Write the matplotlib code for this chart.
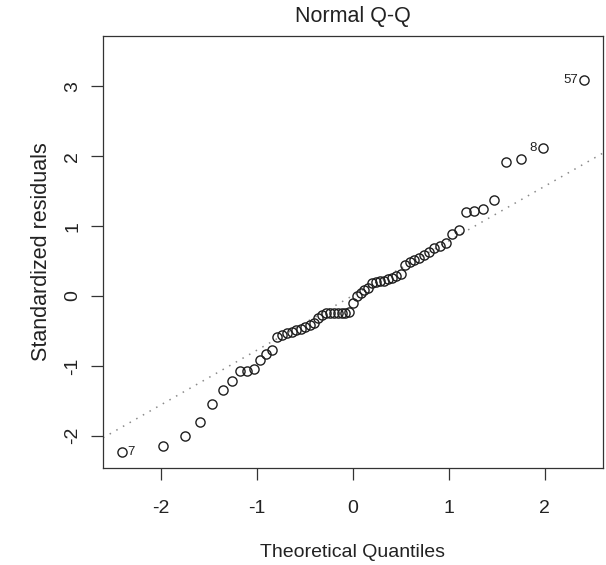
import matplotlib
matplotlib.use("Agg")
import matplotlib.pyplot as plt
import numpy as np
from statistics import NormalDist

# Sorted standardized residuals of the fitted model
std_resid = [-2.23, -2.14, -2.00, -1.80, -1.55, -1.35, -1.21, -1.08, -1.07, -1.04,
             -0.91, -0.83, -0.77, -0.59, -0.56, -0.53, -0.51, -0.49, -0.47, -0.45,
             -0.42, -0.38, -0.32, -0.27, -0.25, -0.25, -0.25, -0.25, -0.25, -0.24,
             -0.23, -0.10, 0.00, 0.04, 0.08, 0.12, 0.18, 0.20, 0.21, 0.22,
             0.24, 0.26, 0.28, 0.32, 0.45, 0.49, 0.52, 0.55, 0.59, 0.63,
             0.68, 0.72, 0.76, 0.89, 0.94, 1.20, 1.22, 1.24, 1.38, 1.91,
             1.96, 2.12, 3.09]

# Observations flagged as the most extreme residuals (rank in sorted order)
flag_names = ["7", "8", "57"]
flag_ranks = [0, 61, 62]

x_ticks = [-2, -1, 0, 1, 2]
y_ticks = [-2, -1, 0, 1, 2, 3]

title = "Normal Q-Q"
x_label = "Theoretical Quantiles"
y_label = "Standardized residuals"

plt.rcParams["font.family"] = ["Liberation Sans", "DejaVu Sans"]

y = np.array(std_resid)
n = len(y)
nd = NormalDist()
# plotting positions as in R's ppoints() for n > 10
probs = (np.arange(1, n + 1) - 0.5) / n
q = np.array([nd.inv_cdf(p) for p in probs])

# reference line through the first and third quartiles
yq = np.quantile(y, [0.25, 0.75])
xq = np.array([nd.inv_cdf(0.25), nd.inv_cdf(0.75)])
slope = (yq[1] - yq[0]) / (xq[1] - xq[0])
intercept = yq[0] - slope * xq[0]

# axis limits with R-like 4% padding, extra headroom for labels
xr = np.array([q.min(), q.max()])
xlim = (xr[0] - 0.04 * np.ptp(xr), xr[1] + 0.04 * np.ptp(xr))
yr = [y.min(), y.max()]
yr[1] = yr[1] + 0.075 * (yr[1] - yr[0])
ylim = (yr[0] - 0.04 * (yr[1] - yr[0]), yr[1] + 0.04 * (yr[1] - yr[0]))

fig = plt.figure(figsize=(6.06, 5.65), dpi=100)
ax = fig.add_axes([0.170, 0.172, 0.825, 0.764])

text_col = "#222222"

xx = np.array(xlim)
ax.plot(xx, intercept + slope * xx, linestyle=(0, (1, 4)), color="#8a8a8a",
        linewidth=1.1, zorder=1)
ax.plot(q, y, linestyle="none", marker="o", markersize=6.6,
        markerfacecolor="none", markeredgecolor="#1e1e1e",
        markeredgewidth=1.0, zorder=2)

for name, r in zip(flag_names, flag_ranks):
    if q[r] < np.mean(xlim):
        ax.annotate(name, (q[r], y[r]), xytext=(4.5, 0), textcoords="offset points",
                    ha="left", va="center", fontsize=9.5, color=text_col)
    else:
        ax.annotate(name, (q[r], y[r]), xytext=(-4.5, 0), textcoords="offset points",
                    ha="right", va="center", fontsize=9.5, color=text_col)

ax.set_xlim(xlim)
ax.set_ylim(ylim)
ax.set_xticks(x_ticks)
ax.set_yticks(y_ticks)
ax.set_xticklabels([f"{t:d}" for t in x_ticks])
ax.set_yticklabels([f"{t:d}" for t in y_ticks], rotation=90, va="center")

ax.tick_params(axis="both", direction="out", length=8.5, width=0.9,
               color="#333333", labelcolor=text_col, labelsize=14)
ax.tick_params(axis="x", pad=15)
ax.tick_params(axis="y", pad=7)

for s in ax.spines.values():
    s.set_linewidth(0.9)
    s.set_color("#333333")

ax.set_title(title, fontsize=15.5, color=text_col, pad=10)
ax.set_xlabel(x_label, fontsize=14, color=text_col, labelpad=19)
ax.set_ylabel(y_label, fontsize=15.5, color=text_col, labelpad=9)

fig.savefig("out.png", dpi=100, facecolor="white")
